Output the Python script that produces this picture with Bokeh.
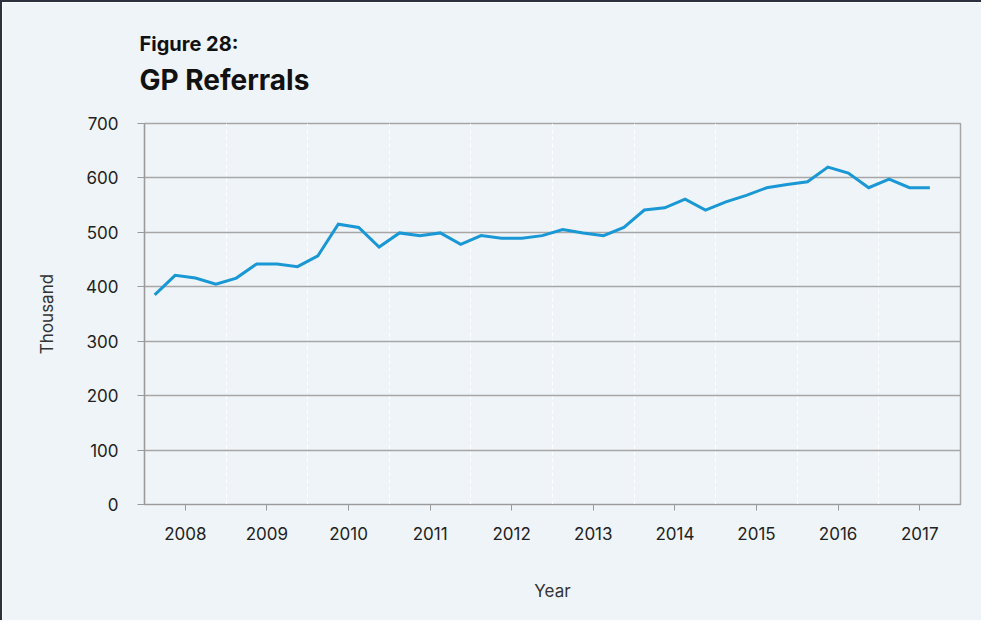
from bokeh.plotting import figure
from bokeh.models import Range1d, FixedTicker, Title
from bokeh.embed import file_html
from bokeh.resources import INLINE

# ---- data (thousand GP referrals per quarter) ----
years = [2008, 2009, 2010, 2011, 2012, 2013, 2014, 2015, 2016, 2017]
quarters = ["Q1", "Q2", "Q3", "Q4"]
referrals = [
    385, 421, 416, 405,
    416, 442, 442, 437,
    457, 515, 509, 473,
    499, 494, 499, 478,
    494, 489, 489, 494,
    505, 499, 494, 509,
    541, 545, 561, 541,
    556, 568, 582, 588,
    593, 620, 609, 582,
    598, 582, 582,
]
y_ticks = [0, 100, 200, 300, 400, 500, 600, 700]

periods = [f"{y} {q}" for y in years for q in quarters][:len(referrals)]
xs = [i + 0.5 for i in range(len(periods))]
n_slots = len(years) * len(quarters)

BG = "#eff4f8"
TXT = "#222222"
FONT = "Inter"

p = figure(
    width=981, height=620,
    x_range=Range1d(0, n_slots), y_range=Range1d(0, 700),
    output_backend="svg", toolbar_location=None, title=None,
    min_border_left=142, min_border_right=23,
    min_border_top=121, min_border_bottom=118,
    background_fill_color=BG, border_fill_color=BG,
    outline_line_color="#a6a6a6", outline_line_width=1.5,
)
p.styles = {"border-top": "2px solid #2c3140", "border-left": "2px solid #2c3140"}

# spacer between frame and titles, then the two title lines
p.add_layout(Title(text=" ", text_font=FONT, text_font_size="10px", standoff=13), "above")
p.add_layout(Title(text="GP Referrals", text_font=FONT, text_font_size="28px",
                   text_font_style="bold", text_color="#111111", align="left",
                   offset=-5, standoff=0), "above")
p.add_layout(Title(text="Figure 28:", text_font=FONT, text_font_size="20px",
                   text_font_style="bold", text_color="#111111", align="left",
                   offset=-5, standoff=10), "above")

p.line(xs, referrals, line_color="#1a98d5", line_width=3, line_join="miter")

# x axis: year labels centred, quarter-boundary ticks
year_centres = [4 * i + 2 for i in range(len(years))]
p.xaxis.ticker = FixedTicker(ticks=year_centres,
                             minor_ticks=[k for k in range(1, n_slots) if k % 2 == 1])
p.xaxis.major_label_overrides = {c: str(y) for c, y in zip(year_centres, years)}
p.xaxis.axis_label = "Year"
p.xaxis.major_tick_in = 0
p.xaxis.major_tick_out = 6
p.xaxis.minor_tick_in = 0
p.xaxis.minor_tick_out = 6
p.xaxis.major_label_standoff = 16
p.xaxis.axis_label_standoff = 38

p.yaxis.ticker = FixedTicker(ticks=y_ticks)
p.yaxis.axis_label = "Thousand"
p.yaxis.major_tick_in = 0
p.yaxis.major_tick_out = 7
p.yaxis.minor_tick_line_color = None
p.yaxis.major_label_standoff = 19
p.yaxis.axis_label_standoff = 26

for ax in (p.xaxis, p.yaxis):
    ax.axis_line_color = "#9a9a9a"
    ax.axis_line_width = 1.2
    ax.major_tick_line_color = "#9a9a9a"
    ax.minor_tick_line_color = "#9a9a9a" if ax is p.xaxis else None
    ax.major_label_text_font = FONT
    ax.major_label_text_font_size = "17px"
    ax.major_label_text_color = TXT
    ax.axis_label_text_font = FONT
    ax.axis_label_text_font_size = "17px"
    ax.axis_label_text_font_style = "normal"
    ax.axis_label_text_color = "#333333"

p.ygrid.ticker = FixedTicker(ticks=y_ticks)
p.ygrid.grid_line_color = "#a6a6a6"
p.ygrid.grid_line_width = 1.5
p.xgrid.ticker = FixedTicker(ticks=[4 * i for i in range(1, len(years))])
p.xgrid.grid_line_color = "#ffffff"
p.xgrid.grid_line_dash = "4 3"
p.xgrid.grid_line_width = 1

open("out.html", "w").write(file_html(p, INLINE))
